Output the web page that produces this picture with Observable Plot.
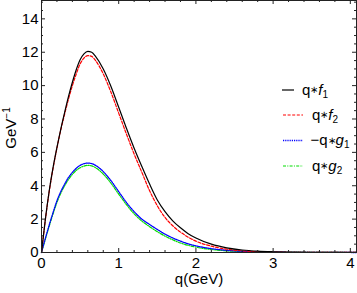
<!DOCTYPE html>
<html><head><meta charset="utf-8">
<script src="https://cdn.jsdelivr.net/npm/d3@7"></script>
<script src="https://cdn.jsdelivr.net/npm/@observablehq/plot@0.6"></script>
<style>
body{margin:0;background:#fff;}
#wrap{position:relative;width:357px;height:293px;}
</style>
</head><body><div id="wrap"></div>
<script>
// momentum grid (GeV)
const q  = [0,0.05,0.1,0.15,0.2,0.25,0.3,0.35,0.4,0.45,0.5,0.55,0.6,0.65,0.7,0.8,0.9,1.0,1.1,1.2,1.3,1.4,1.5,1.6,1.7,1.8,1.9,2.0,2.2,2.4,2.6,2.8,3.0,3.2,3.5,3.8,4.08];
// q*f1 (black solid)
const qf1 = [0,2.0,3.7,5.1,6.3,7.4,8.4,9.35,10.2,10.95,11.55,11.9,12.05,12.0,11.75,11.0,9.95,8.7,7.45,6.25,5.15,4.1,3.15,2.45,1.9,1.48,1.13,0.87,0.5,0.28,0.15,0.08,0.045,0.025,0.012,0.006,0.003];
// q*f2 (red dashed)
const qf2 = [0,1.95,3.65,5.05,6.25,7.35,8.3,9.2,10.0,10.7,11.3,11.65,11.8,11.75,11.5,10.7,9.6,8.35,7.1,5.9,4.8,3.7,2.8,2.1,1.6,1.22,0.92,0.68,0.38,0.2,0.1,0.05,0.03,0.015,0.008,0.004,0.002];
// -q*g1 (blue dotted)
const mqg1 = [0,0.85,1.65,2.4,3.1,3.65,4.1,4.5,4.8,5.05,5.22,5.32,5.36,5.33,5.22,4.85,4.3,3.65,3.0,2.45,2.0,1.68,1.38,1.1,0.87,0.68,0.52,0.4,0.23,0.13,0.075,0.04,0.022,0.012,0.006,0.003,0.001];
// q*g2 (green dot-dashed)
const qg2 = [0,0.8,1.58,2.32,3.0,3.55,4.0,4.38,4.68,4.92,5.08,5.18,5.22,5.19,5.08,4.7,4.15,3.5,2.87,2.32,1.88,1.55,1.25,0.98,0.76,0.57,0.43,0.32,0.18,0.1,0.055,0.03,0.016,0.008,0.004,0.002,0.001];

const seriesKeys = ["f1","f2","g1","g2"];
const seriesValues = [qf1, qf2, mqg1, qg2];
const xTicks = [0,1,2,3,4];
const yTicks = [0,2,4,6,8,10,12,14];
const xLabel = "q(GeV)";
const yLabel = "GeV";
const yLabelSup = "\u22121";
// legend: sign prefix, function letter, index
const legendItems = [["","f","1"],["","f","2"],["\u2212","g","1"],["","g","2"]];

// styles
const colors = {f1:"#000000", f2:"#ff0000", g1:"#0000ff", g2:"#00dd00"};
const dashes = {f1:null, f2:"3,1.6", g1:"1.2,1", g2:"3,1.3,1,1.3"};
const widths = {f1:1.2, f2:1.2, g1:1.3, g2:1.2};

const rows = [];
seriesKeys.forEach((k,i)=> q.forEach((x,j)=> rows.push({key:k, q:x, v:seriesValues[i][j]})));

const xMinor = d3.range(0, 4.01, 0.2).filter(v => Math.abs(v - Math.round(v)) > 1e-6);
const yMinor = d3.range(0, 15.01, 0.5).filter(v => Math.abs(v/2 - Math.round(v/2)) > 1e-6);

const W = 357, H = 293, ML = 41, MR = 1, MT = 0, MB = 41;
const FW = W - ML - MR, FH = H - MT - MB;
const MAJ = 4, MIN = 2;

const FONT = '"Liberation Sans", Arial, sans-serif';
const FS = 15;
const ink = "#222";
const fmt = d => String(d);

const lineMarks = seriesKeys.map(k => Plot.line(rows.filter(r=>r.key===k), {
  x:"q", y:"v", stroke: colors[k], strokeWidth: widths[k],
  strokeDasharray: dashes[k] ?? undefined, curve:"monotone-x"
}));

const tk = {stroke:ink, strokeWidth:1};

const chart = Plot.plot({
  width:W, height:H,
  marginLeft:ML, marginRight:MR, marginTop:MT, marginBottom:MB,
  x:{domain:[0,4.08], label:null},
  y:{domain:[0,15.1], label:null},
  style:{fontFamily:FONT, fontSize:FS+"px", color:ink, background:"#fff"},
  marks:[
    ...lineMarks.slice().reverse(),
    Plot.frame({stroke:ink, strokeWidth:1}),
    // inward ticks: bottom, top
    Plot.tickX(xTicks, {x:d=>d, insetTop:FH-MAJ, ...tk}),
    Plot.tickX(xMinor, {x:d=>d, insetTop:FH-MIN, ...tk}),
    Plot.tickX(xTicks, {x:d=>d, insetBottom:FH-MAJ, ...tk}),
    Plot.tickX(xMinor, {x:d=>d, insetBottom:FH-MIN, ...tk}),
    // inward ticks: left, right
    Plot.tickY(yTicks, {y:d=>d, insetRight:FW-MAJ, ...tk}),
    Plot.tickY(yMinor, {y:d=>d, insetRight:FW-MIN, ...tk}),
    Plot.tickY(yTicks, {y:d=>d, insetLeft:FW-MAJ, ...tk}),
    Plot.tickY(yMinor, {y:d=>d, insetLeft:FW-MIN, ...tk}),
    // tick labels
    Plot.axisX({anchor:"bottom", ticks:xTicks, tickFormat:fmt, tickSize:0, tickPadding:5, label:null, fill:"#000"}),
    Plot.axisY({anchor:"left", ticks:yTicks, tickFormat:fmt, tickSize:0, tickPadding:3, label:null, fill:"#000"}),
    // x axis title
    Plot.text([xLabel], {frameAnchor:"bottom", dy:31.5, fill:"#000", fontSize:FS})
  ]
});
document.getElementById("wrap").appendChild(chart);

// y axis title with superscript
const svg = d3.select(chart);
const yt = svg.append("text")
  .attr("transform", "translate(15.5,128) rotate(-90)")
  .attr("text-anchor","middle")
  .attr("font-family", FONT).attr("font-size", FS).attr("fill","#000");
yt.append("tspan").text(yLabel);
yt.append("tspan").attr("font-size", 10).attr("dy", -6).text(yLabelSup);

// legend
const legendRowsY = [90, 115, 140.5, 166];
const lg = svg.append("g").attr("font-family", FONT).attr("font-size", FS)
  .attr("fill","#000").attr("text-anchor","start");
legendItems.forEach((it, i) => {
  const k = seriesKeys[i];
  const y = legendRowsY[i];
  const x0 = i === 0 ? 282 : 283, x1 = i === 0 ? 294 : 303;
  const tx = i === 0 ? 302 : (it[0] ? 310.5 : 312);
  lg.append("line").attr("x1",x0).attr("x2",x1).attr("y1",y).attr("y2",y)
    .attr("stroke", colors[k]).attr("stroke-width", widths[k])
    .attr("stroke-dasharray", dashes[k]);
  const t = lg.append("text").attr("x", tx).attr("y", y + 4.5).attr("text-anchor","start");
  t.append("tspan").text(it[0] + "q");
  t.append("tspan").attr("font-size", 10).attr("dy", -1.5).text("\u2217");
  t.append("tspan").attr("font-style","italic").attr("dy", 1.5).text(it[1]);
  t.append("tspan").attr("font-size", 10).attr("dy", 3).text(it[2]);
});
</script>
</body></html>
